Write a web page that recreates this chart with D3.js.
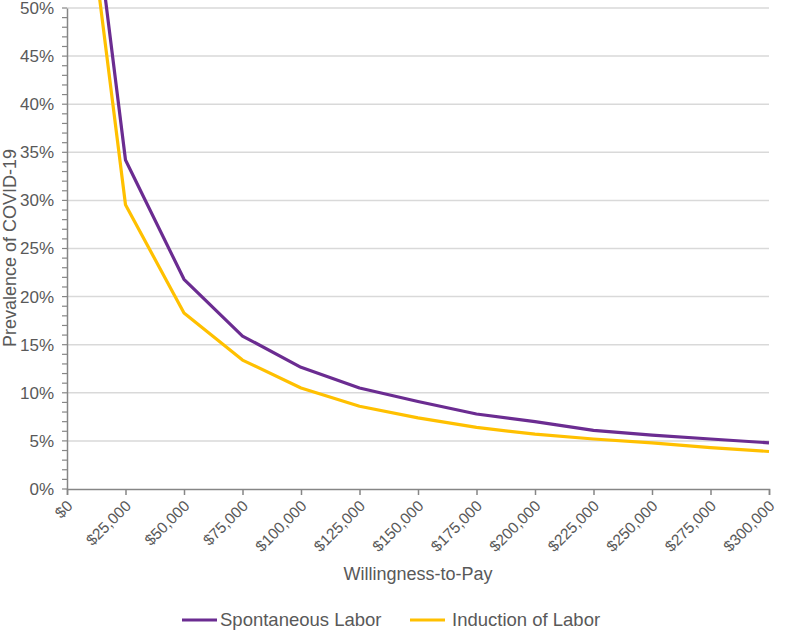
<!DOCTYPE html>
<html><head><meta charset="utf-8">
<script src="https://cdn.jsdelivr.net/npm/d3@7"></script>
<style>body{margin:0;background:#fff}svg{display:block}text{font-family:"Liberation Sans",Arial,sans-serif;fill:#595959}</style>
</head><body>
<svg id="c" width="800" height="631"></svg>
<script>
const wtp = [0, 25000, 50000, 75000, 100000, 125000, 150000, 175000, 200000, 225000, 250000, 275000, 300000];
const spontaneous = [83.0, 34.2, 21.8, 15.9, 12.65, 10.5, 9.1, 7.8, 7.0, 6.1, 5.6, 5.2, 4.8];
const induction = [78.0, 29.55, 18.3, 13.4, 10.5, 8.6, 7.4, 6.4, 5.7, 5.2, 4.8, 4.3, 3.9];
const xTicks = [0, 25000, 50000, 75000, 100000, 125000, 150000, 175000, 200000, 225000, 250000, 275000, 300000];
const yTicks = [0, 5, 10, 15, 20, 25, 30, 35, 40, 45, 50];
const seriesNames = ["Spontaneous Labor", "Induction of Labor"];
const colors = ["#6B2C91", "#FFC000"];

const svg = d3.select("#c");
const L = 67, R = 769, T = 8, B = 489;
const x = d3.scaleLinear().domain([0, 300000]).range([L, R]);
const y = d3.scaleLinear().domain([0, 50]).range([B, T]);

svg.append("defs").append("clipPath").attr("id","clip")
  .append("rect").attr("x", L).attr("y", 0).attr("width", R - L + 5).attr("height", B);

// gridlines
svg.append("g").selectAll("line").data(yTicks.filter(d => d > 0)).join("line")
  .attr("x1", L).attr("x2", R).attr("y1", d => y(d)).attr("y2", d => y(d))
  .attr("stroke", "#d9d9d9").attr("stroke-width", 1.5);

// y minor ticks
const minor = d3.range(0, 51, 1);
svg.append("g").selectAll("line").data(minor).join("line")
  .attr("x1", L - 5).attr("x2", L).attr("y1", d => y(d)).attr("y2", d => y(d))
  .attr("stroke", "#868686").attr("stroke-width", 1.2);

// y axis
const yAxis = d3.axisLeft(y).tickValues(yTicks).tickFormat(d => d + "%").tickSize(0).tickPadding(13);
const yg = svg.append("g").attr("transform", `translate(${L},0)`).call(yAxis);
yg.select(".domain").attr("stroke", "#868686").attr("stroke-width", 1.5);
yg.selectAll("text").attr("font-size", 17).style("fill", "#595959");

// x axis
const xAxis = d3.axisBottom(x).tickValues(xTicks).tickSize(6).tickFormat(d => "$" + d3.format(",")(d));
const xg = svg.append("g").attr("transform", `translate(0,${B})`).call(xAxis);
xg.select(".domain").attr("stroke", "#868686").attr("stroke-width", 1.5);
xg.selectAll(".tick line").attr("stroke", "#868686").attr("stroke-width", 1.5);
xg.selectAll("text").attr("font-size", 15.5).style("fill", "#595959")
  .attr("text-anchor", "end").attr("dy", 0).attr("y", 0)
  .attr("transform", "translate(6,18) rotate(-45)");

// lines
const line = d3.line().x((d, i) => x(wtp[i])).y(d => y(d));
const g = svg.append("g").attr("clip-path", "url(#clip)");
[induction, spontaneous].forEach((s, k) => {
  g.append("path").datum(s).attr("d", line).attr("fill", "none")
    .attr("stroke", k === 0 ? colors[1] : colors[0]).attr("stroke-width", 3.2)
    .attr("stroke-linejoin", "round");
});

// axis titles
svg.append("text").attr("x", 418).attr("y", 580).attr("text-anchor", "middle")
  .attr("font-size", 18).text("Willingness-to-Pay");
svg.append("text").attr("transform", "translate(16,248) rotate(-90)").attr("text-anchor", "middle")
  .attr("font-size", 18).text("Prevalence of COVID-19");

// legend
const leg = [{x: 182, tx: 220}, {x: 410, tx: 452}];
seriesNames.forEach((n, i) => {
  svg.append("line").attr("x1", leg[i].x).attr("x2", leg[i].x + 35).attr("y1", 620).attr("y2", 620)
    .attr("stroke", colors[i]).attr("stroke-width", 3.2);
  svg.append("text").attr("x", leg[i].tx).attr("y", 626).attr("font-size", 18.5).text(n);
});
</script>
</body></html>
